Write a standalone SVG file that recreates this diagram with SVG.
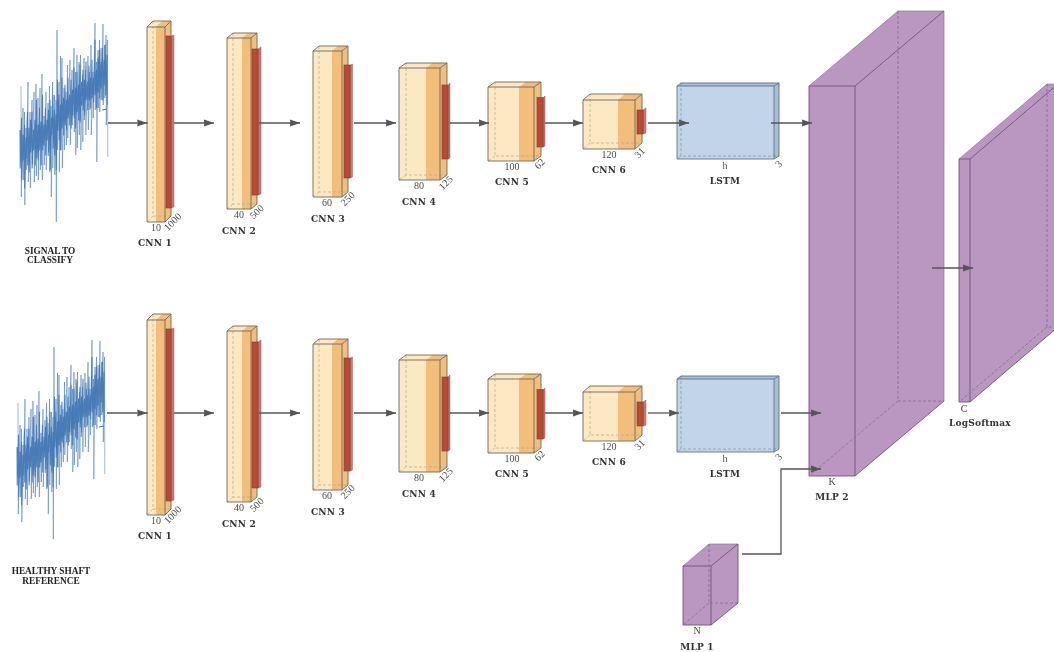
<svg xmlns="http://www.w3.org/2000/svg" width="1054" height="652" viewBox="0 0 1054 652">
<style>
svg&gt;g{filter:url(#soft)}
.l{fill:#fce8c2}.d{fill:#f2be7c}.e{stroke:#6e6a5c;stroke-width:.9;fill:none}.r{stroke:#b5a88e;stroke-width:.7;fill:none;stroke-dasharray:3 2}
.rf{fill:#b94c33;stroke:#7d3a2c;stroke-width:.6}.rs{fill:#c9757a;stroke:#8d4a44;stroke-width:.4}
.b{fill:#c2d4e8}.bs{fill:#a9bfd6}.be{stroke:#5f7388;stroke-width:.9;fill:none}.br{stroke:#7b8fa4;stroke-width:.7;fill:none;stroke-dasharray:3 2}
.p{fill:#b997c0}.pe{stroke:#6f5678;stroke-width:.9;fill:none}.pl{stroke:#8f7296;stroke-width:.7;fill:none}.pr{stroke:#836a8b;stroke-width:.8;fill:none;stroke-dasharray:3 2}
.n{font:10px "Liberation Serif",serif;fill:#4a4a4a;text-anchor:middle}
.t{font:bold 9px "DejaVu Serif",serif;fill:#333;text-anchor:middle;letter-spacing:.2px}
.s{font:bold 9.3px "Liberation Serif",serif;fill:#222;text-anchor:middle}
.c{stroke:#555;stroke-width:1.3;fill:none;marker-end:url(#a)}
.w{fill:none;stroke:#3f75b3;stroke-linejoin:round}
</style>
<defs>
<filter id="soft" x="0" y="0" width="1054" height="652" filterUnits="userSpaceOnUse"><feGaussianBlur stdDeviation=".35"/></filter>
<marker id="a" markerUnits="userSpaceOnUse" markerWidth="11" markerHeight="8" refX="10.5" refY="4" orient="auto"><path d="M0,.4L10.5,4L0,7.600L1,4Z" fill="#555"/></marker>
<g id="wave">
<path class="w" stroke-width="1" opacity=".5" d="M21,86 21.300,197 23,108 23.300,180 24.500,112 24.800,205 26,128 26.300,170 28,82 28.300,182 30,112 30.300,188 32,100 32.300,164 34,92 34.300,182 36,84 36.300,176 38,98 38.300,180 40,88 40.300,170 42,74 42.300,180 44,116 44.300,165 46,92 46.300,170 48,103 48.300,156 49.500,86 49.800,172 51,106 51.300,197 52.500,82 52.800,168 54.500,95 54.800,175 56,100 56.300,222 57,30 57.300,150 59,82 59.300,172 60.500,56 60.800,150 62,58 62.300,168 64,88 64.300,150 66,92 66.300,145 67.500,65 67.800,138 70,60 70.300,145 72,70 72.300,125 74,48 74.300,132 75.500,72 75.800,155 77,55 77.300,148 79,62 79.300,135 80.500,55 80.800,150 82.500,75 82.800,142 84,58 84.300,120 85.500,70 85.800,135 88,56 88.300,130 89.500,72 89.800,110 91,45 91.300,135 93,72 93.300,118 95,23 95.300,110 96.500,62 96.800,162 98,50 98.300,108 99.500,40 99.800,112 101,48 101.300,100 103,24 103.300,105 104.500,45 104.800,98 106,35 106.300,125 107.500,40 107.800,157"/>
<path class="w" stroke-width="1.050" opacity=".9" d="M20,130 20.200,168 21.500,118 21.700,180 23,135 23.200,160 24.500,125 24.700,188 26,138 26.200,158 27.500,112 27.700,165 29,128 29.200,172 30.500,120 30.700,152 32,112 32.200,168 33.500,130 33.700,150 35,120 35.200,165 36.500,100 36.700,158 38,125 38.200,160 39.500,108 39.700,150 41,122 41.200,165 42.500,95 42.700,150 44,125 44.200,145 45.500,108 45.700,155 47,120 47.200,140 48.500,110 48.700,152 50,100 50.200,170 51.500,118 51.700,135 53,95 53.200,148 54.500,110 54.700,155 56,115 56.200,170 57.500,80 57.700,130 59,95 59.200,140 60.500,105 60.700,150 62,78 62.200,128 63.500,98 63.700,135 65,85 65.200,125 66.500,100 66.700,130 68,78 68.200,118 69.500,95 69.700,125 71,80 71.200,128 72.500,90 72.700,115 74,68 74.200,118 75.500,88 75.700,128 77,72 77.200,112 78.500,85 78.700,120 80,65 80.200,122 81.500,82 81.700,105 83,70 83.200,110 84.500,80 84.700,115 86,62 86.200,100 87.500,82 87.700,110 89,66 89.200,100 90.500,78 90.700,108 92,60 92.200,98 93.500,78 93.700,102 95,40 95.200,95 96.500,70 96.700,108 98,58 98.200,92 99.500,50 99.700,98 101,62 101.200,88 102.500,48 102.700,100 104,60 104.200,85 105.500,45 105.700,95 107,55 107.200,105"/>
<path d="M102,110 L107,109" stroke="#3f75b3" stroke-width="1" fill="none"/>
</g>
<g id="s1"><polygon class="l" points="147,27 153,21 171,21 165,27"/><polygon class="d" points="156,27 162,21 171,21 165,27"/><polygon class="d" points="165,27 171,21 171,216 165,222"/><rect class="l" x="147" y="27" width="9" height="195"/><rect class="d" x="156" y="27" width="9" height="195"/><path class="r" d="M153,21V216H171M153,216L147,222"/><path class="e" d="M147,27H165V222H147ZM165,27L171,21H153L147,27M171,21V216L165,222"/><polygon class="rs" points="171,36 174,35 174,207 171,208"/><rect class="rf" x="166" y="36" width="5" height="172"/></g>
<g id="s2"><polygon class="l" points="227,38 233,33 257,33 251,38"/><polygon class="d" points="242,38 248,33 257,33 251,38"/><polygon class="d" points="251,38 257,33 257,204 251,209"/><rect class="l" x="227" y="38" width="15" height="171"/><rect class="d" x="242" y="38" width="9" height="171"/><path class="r" d="M233,33V204H257M233,204L227,209"/><path class="e" d="M227,38H251V209H227ZM251,38L257,33H233L227,38M257,33V204L251,209"/><polygon class="rs" points="258,49 261,47 261,194 258,195"/><rect class="rf" x="252" y="49" width="6" height="146"/></g>
<g id="s3"><polygon class="l" points="313,51 319,46 348,46 342,51"/><polygon class="d" points="332,51 338,46 348,46 342,51"/><polygon class="d" points="342,51 348,46 348,192 342,197"/><rect class="l" x="313" y="51" width="19" height="146"/><rect class="d" x="332" y="51" width="10" height="146"/><path class="r" d="M319,46V192H348M319,192L313,197"/><path class="e" d="M313,51H342V197H313ZM342,51L348,46H319L313,51M348,46V192L342,197"/><polygon class="rs" points="350,65 352.500,64 352.500,177 350,178"/><rect class="rf" x="344" y="65" width="6" height="113"/></g>
<g id="s4"><polygon class="l" points="399,68 406,63 447,63 440,68"/><polygon class="d" points="426,68 433,63 447,63 440,68"/><polygon class="d" points="440,68 447,63 447,175 440,180"/><rect class="l" x="399" y="68" width="27" height="112"/><rect class="d" x="426" y="68" width="14" height="112"/><path class="r" d="M406,63V175H447M406,175L399,180"/><path class="e" d="M399,68H440V180H399ZM440,68L447,63H406L399,68M447,63V175L440,180"/><polygon class="rs" points="448,85 450,83 450,158 448,159"/><rect class="rf" x="442" y="85" width="6" height="74"/></g>
<g id="s5"><polygon class="l" points="488,87 495,82 541,82 534,87"/><polygon class="d" points="519,87 526,82 541,82 534,87"/><polygon class="d" points="534,87 541,82 541,156 534,161"/><rect class="l" x="488" y="87" width="31" height="74"/><rect class="d" x="519" y="87" width="15" height="74"/><path class="r" d="M495,82V156H541M495,156L488,161"/><path class="e" d="M488,87H534V161H488ZM534,87L541,82H495L488,87M541,82V156L534,161"/><polygon class="rs" points="543,98 545,96 545,146 543,147"/><rect class="rf" x="537" y="97.500" width="6" height="49.500"/></g>
<g id="s6"><polygon class="l" points="583,100 590,94 642,94 635,100"/><polygon class="d" points="618,100 625,94 642,94 635,100"/><polygon class="d" points="635,100 642,94 642,143 635,149"/><rect class="l" x="583" y="100" width="35" height="49"/><rect class="d" x="618" y="100" width="17" height="49"/><path class="r" d="M590,94V143H642M590,143L583,149"/><path class="e" d="M583,100H635V149H583ZM635,100L642,94H590L583,100M642,94V143L635,149"/><polygon class="rs" points="643,110 646,108 646,133 643,134"/><rect class="rf" x="637" y="110" width="6" height="24"/></g>
<g id="ls"><polygon class="bs" points="677,86 681,83 779,83 774,86"/><polygon class="bs" points="774,86 779,83 779,156 774,159"/><rect class="b" x="677" y="86" width="97" height="73"/><path class="br" d="M681,83V156H779M681,156L677,159"/><path class="be" d="M677,86H774V159H677ZM774,86L779,83H681L677,86M779,83V156L774,159"/></g>
</defs>

<g id="signal-1"><use href="#wave"/><text class="s" x="50" y="254">SIGNAL TO</text><text class="s" x="50" y="263">CLASSIFY</text></g>
<g id="signal-2"><use href="#wave" transform="translate(-3,317)"/><text class="s" x="51" y="574">HEALTHY SHAFT</text><text class="s" x="51" y="584">REFERENCE</text></g>

<g id="cnn1-a"><use href="#s1"/><text class="n" x="156" y="231">10</text><text class="n" transform="translate(173,222) rotate(-45)" y="3">1000</text><text class="t" x="155" y="246">CNN 1</text></g>
<g id="cnn2-a"><use href="#s2"/><text class="n" x="239" y="218">40</text><text class="n" transform="translate(257,212) rotate(-45)" y="3">500</text><text class="t" x="239" y="234">CNN 2</text></g>
<g id="cnn3-a"><use href="#s3"/><text class="n" x="327" y="206">60</text><text class="n" transform="translate(348,199) rotate(-45)" y="3">250</text><text class="t" x="328" y="222">CNN 3</text></g>
<g id="cnn4-a"><use href="#s4"/><text class="n" x="419" y="189">80</text><text class="n" transform="translate(446,183) rotate(-45)" y="3">125</text><text class="t" x="419" y="205">CNN 4</text></g>
<g id="cnn5-a"><use href="#s5"/><text class="n" x="512" y="170">100</text><text class="n" transform="translate(540,164) rotate(-45)" y="3">62</text><text class="t" x="512" y="185">CNN 5</text></g>
<g id="cnn6-a"><use href="#s6"/><text class="n" x="609" y="158">120</text><text class="n" transform="translate(640,153) rotate(-45)" y="3">31</text><text class="t" x="609" y="173">CNN 6</text></g>
<g id="lstm-a"><use href="#ls"/><text class="n" x="725" y="169">h</text><text class="n" transform="translate(779,164) rotate(-45)" y="3">3</text><text class="t" x="725" y="184">LSTM</text></g>

<g id="cnn1-b" transform="translate(0,293)"><use href="#s1"/><text class="n" x="156" y="231">10</text><text class="n" transform="translate(173,222) rotate(-45)" y="3">1000</text><text class="t" x="155" y="246">CNN 1</text></g>
<g id="cnn2-b" transform="translate(0,293)"><use href="#s2"/><text class="n" x="239" y="218">40</text><text class="n" transform="translate(257,212) rotate(-45)" y="3">500</text><text class="t" x="239" y="234">CNN 2</text></g>
<g id="cnn3-b" transform="translate(0,293)"><use href="#s3"/><text class="n" x="327" y="206">60</text><text class="n" transform="translate(348,199) rotate(-45)" y="3">250</text><text class="t" x="328" y="222">CNN 3</text></g>
<g id="cnn4-b" transform="translate(0,292)"><use href="#s4"/><text class="n" x="419" y="189">80</text><text class="n" transform="translate(446,183) rotate(-45)" y="3">125</text><text class="t" x="419" y="205">CNN 4</text></g>
<g id="cnn5-b" transform="translate(0,292)"><use href="#s5"/><text class="n" x="512" y="170">100</text><text class="n" transform="translate(540,164) rotate(-45)" y="3">62</text><text class="t" x="512" y="185">CNN 5</text></g>
<g id="cnn6-b" transform="translate(0,292)"><use href="#s6"/><text class="n" x="609" y="158">120</text><text class="n" transform="translate(640,153) rotate(-45)" y="3">31</text><text class="t" x="609" y="173">CNN 6</text></g>
<g id="lstm-b" transform="translate(0,293)"><use href="#ls"/><text class="n" x="725" y="169">h</text><text class="n" transform="translate(779,164) rotate(-45)" y="3">3</text><text class="t" x="725" y="184">LSTM</text></g>

<g id="mlp2"><polygon class="p" points="809,86 898,11 944,11 944,401 855,476 809,476"/><path class="pl" d="M809,86L898,11H944V401"/><path class="pe" d="M809,86H855V476H809ZM855,86L944,11M855,476L944,401"/><path class="pr" d="M898,11V401H944M898,401L809,476"/><text class="n" x="832" y="485">K</text><text class="t" x="832" y="500">MLP 2</text></g>
<g id="logsoftmax"><polygon class="p" points="959,159 1047,84 1058,84 1058,327 970,402 959,402"/><path class="pl" d="M959,159L1047,84H1058"/><path class="pe" d="M959,159H970V402H959ZM970,159L1058,84M970,402L1058,327"/><path class="pr" d="M1047,84V327H1058M1047,327L959,402"/><text class="n" x="964" y="412">C</text><text class="t" x="980" y="426">LogSoftmax</text></g>
<g id="mlp1"><polygon class="p" points="683,566 709,544 738,544 738,603 711,625 683,625"/><path class="pl" d="M683,566L709,544H738"/><path class="pe" d="M683,566H711V625H683ZM711,566L738,544V603L711,625"/><path class="pr" d="M709,544V603H738M709,603L683,625"/><text class="n" x="697" y="634">N</text><text class="t" x="697" y="650">MLP 1</text></g>

<g id="connectors">
<path class="c" d="M108,123H147.500"/><path class="c" d="M174,123H214"/><path class="c" d="M259,123H300"/><path class="c" d="M354,123H396"/><path class="c" d="M450,123H489"/><path class="c" d="M545,123H583"/><path class="c" d="M648,123H689"/><path class="c" d="M771,123H812"/>
<path class="c" d="M107,413H147.500"/><path class="c" d="M174,413H214"/><path class="c" d="M259,413H300"/><path class="c" d="M354,413H396"/><path class="c" d="M450,413H489"/><path class="c" d="M545,413H583"/><path class="c" d="M648,413H679"/><path class="c" d="M781,413H821"/>
<path class="c" d="M742,554H781V469H821"/><path class="c" d="M932,268H973"/>
</g>
</svg>
